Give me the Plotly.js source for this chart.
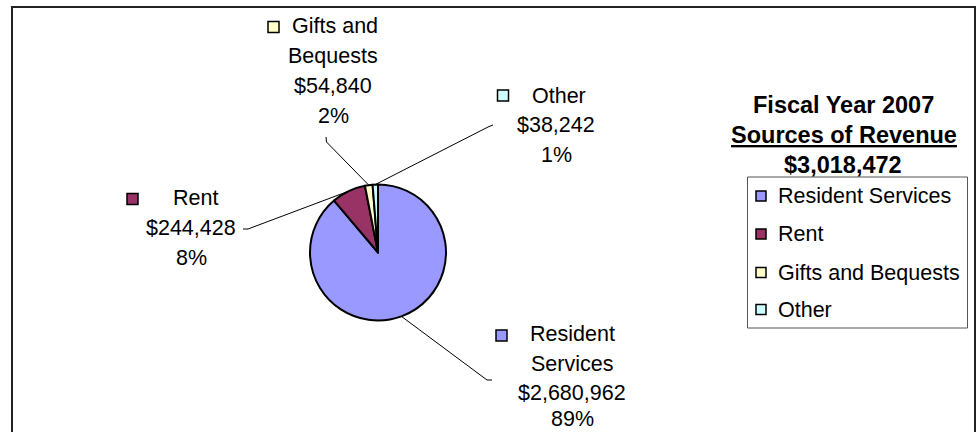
<!DOCTYPE html>
<html>
<head>
<meta charset="utf-8">
<script src="https://cdn.plot.ly/plotly-3.0.1.min.js"></script>
<style>html,body{margin:0;padding:0;background:#fff;}#chart{width:980px;height:432px;}</style>
</head>
<body>
<div id="chart"></div>
<script>
// ---- data ----
const categories = ['Resident Services', 'Rent', 'Gifts and Bequests', 'Other'];
const revenue = [2680962, 244428, 54840, 38242];
const labelNameLines = [['Resident', 'Services'], ['Rent'], ['Gifts and', 'Bequests'], ['Other']];
const titleLines = ['Fiscal Year 2007', 'Sources of Revenue'];

// ---- style ----
const sliceColors = ['#9999FF', '#993366', '#FFFFCC', '#CCFFFF'];
const FONT = 'Arial, "Liberation Sans", sans-serif';
const W = 980, H = 432;
const px = x => x / W;
const py = y => 1 - y / H;

const total = revenue.reduce((a, b) => a + b, 0);
const fmt = v => '$' + v.toLocaleString('en-US');
const pct = v => Math.round(v / total * 100) + '%';

// pie geometry (pixels)
const CX = 378, CY = 252.5, R = 68;

// label layout (pixels): first-line left x, centre x of other lines, line y positions,
// marker centre, leader line end
const labelLayout = [
  {tx: 528, cx: 572, ys: [334, 363.5, 392.5, 419], mx: 501.5, my: 335.5, lx: [487, 492], ly: 380},
  {tx: 171, cx: 191, ys: [197.5, 228, 258], mx: 132.5, my: 199, lx: [248, 243], ly: 229},
  {tx: 290, cx: 333, ys: [25.5, 55.8, 86.1, 116.4], mx: 273.5, my: 27, lx: [326.5, 326], ly: 142, ly2: 137},
  {tx: 530, cx: 556, ys: [96, 125.3, 154.6], mx: 503, my: 95.5, lx: [488, 493], ly: 127, ly2: 125}
];

const annotations = [];
const shapes = [];

// outer chart border
shapes.push({type: 'rect', xref: 'paper', yref: 'paper', x0: px(12), x1: px(975), y0: py(445), y1: py(7),
  line: {color: '#222', width: 2}, fillcolor: 'rgba(0,0,0,0)', layer: 'below'});

let cum = 0;
revenue.forEach((v, i) => {
  const frac = v / total;
  const mid = (cum + frac / 2) * 2 * Math.PI;
  cum += frac;
  const ex = CX + R * Math.sin(mid), ey = CY - R * Math.cos(mid);
  const L = labelLayout[i];
  const lines = labelNameLines[i].concat([fmt(v), pct(v)]);
  lines.forEach((t, k) => {
    annotations.push({
      xref: 'paper', yref: 'paper',
      x: k === 0 ? px(L.tx) : px(L.cx), xanchor: k === 0 ? 'left' : 'center',
      y: py(L.ys[k]), yanchor: 'middle',
      text: t, showarrow: false,
      font: {family: FONT, size: 21.5, color: '#000'}
    });
  });
  // marker square beside label
  shapes.push({type: 'rect', xref: 'paper', yref: 'paper',
    x0: px(L.mx - 5.5), x1: px(L.mx + 5.5), y0: py(L.my + 5.5), y1: py(L.my - 5.5),
    fillcolor: sliceColors[i], line: {color: '#000', width: 1.5}});
  // leader line
  shapes.push({type: 'line', xref: 'paper', yref: 'paper',
    x0: px(ex), y0: py(ey), x1: px(L.lx[0]), y1: py(L.ly), line: {color: '#000', width: 1}});
  shapes.push({type: 'line', xref: 'paper', yref: 'paper',
    x0: px(L.lx[0]), y0: py(L.ly), x1: px(L.lx[1]), y1: py(L.ly2 !== undefined ? L.ly2 : L.ly),
    line: {color: '#000', width: 1}});
});

// title
const titleFont = {family: FONT, size: 23.5, color: '#000'};
annotations.push({xref: 'paper', yref: 'paper', x: px(843), xanchor: 'center', y: py(105), yanchor: 'middle', showarrow: false,
  text: '<b>' + titleLines[0] + '</b>', font: titleFont});
annotations.push({xref: 'paper', yref: 'paper', x: px(844), xanchor: 'center', y: py(135), yanchor: 'middle', showarrow: false,
  text: '<b><u>' + titleLines[1] + '</u></b>', font: titleFont});
annotations.push({xref: 'paper', yref: 'paper', x: px(843), xanchor: 'center', y: py(165), yanchor: 'middle', showarrow: false,
  text: '<b>' + fmt(total) + '</b>', font: titleFont});

// legend box
shapes.push({type: 'rect', xref: 'paper', yref: 'paper', x0: px(747.5), x1: px(967.5), y0: py(328), y1: py(177),
  line: {color: '#555', width: 1}, fillcolor: 'rgba(0,0,0,0)'});
const legendY = [196, 234, 272.5, 309.5];
categories.forEach((c, i) => {
  shapes.push({type: 'rect', xref: 'paper', yref: 'paper',
    x0: px(756), x1: px(766), y0: py(legendY[i] + 5), y1: py(legendY[i] - 5),
    fillcolor: sliceColors[i], line: {color: '#000', width: 1.5}});
  annotations.push({xref: 'paper', yref: 'paper', x: px(776), xanchor: 'left', y: py(legendY[i]), yanchor: 'middle',
    showarrow: false, text: c, font: {family: FONT, size: 21.5, color: '#000'}});
});

const trace = {
  type: 'pie',
  labels: categories,
  values: revenue,
  sort: false,
  direction: 'clockwise',
  rotation: 0,
  textinfo: 'none',
  hoverinfo: 'label+value+percent',
  marker: {colors: sliceColors, line: {color: '#000', width: 2}},
  domain: {x: [px(CX - R), px(CX + R)], y: [py(CY + R), py(CY - R)]},
  showlegend: false
};

const layout = {
  width: W, height: H,
  margin: {l: 0, r: 0, t: 0, b: 0},
  paper_bgcolor: '#fff',
  plot_bgcolor: '#fff',
  showlegend: false,
  annotations: annotations,
  shapes: shapes,
  font: {family: FONT}
};

Plotly.newPlot('chart', [trace], layout, {displayModeBar: false, staticPlot: true});
</script>
</body>
</html>
